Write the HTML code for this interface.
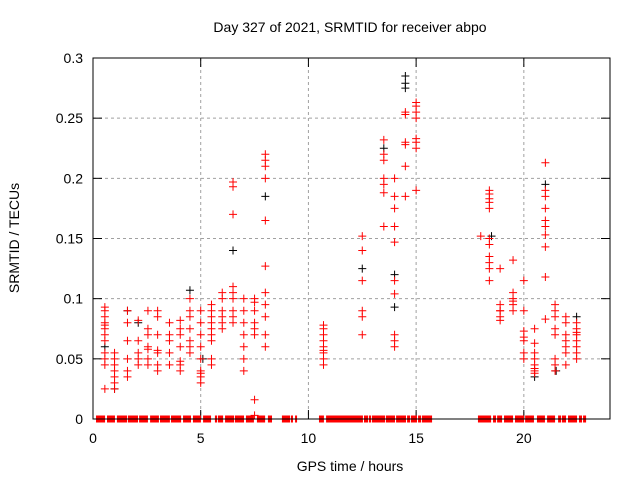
<!DOCTYPE html>
<html><head><meta charset="utf-8"><style>
body{margin:0;background:#fff}
svg text{font-family:"Liberation Sans",sans-serif;font-size:14px;fill:#000}
</style></head><body>
<svg id="chart" width="640" height="480" viewBox="0 0 640 480">
<rect width="640" height="480" fill="#fff"/>
<text x="350" y="32" text-anchor="middle">Day 327 of 2021, SRMTID for receiver abpo</text>
<text transform="translate(19,238) rotate(-90)" text-anchor="middle">SRMTID / TECUs</text>
<text x="350" y="471" text-anchor="middle">GPS time / hours</text>
<g id="grid"></g>
<g id="axes"></g>
<g id="black"></g>
<g id="red"></g>
<rect x="93" y="58" width="517" height="361" fill="none" stroke="#000" stroke-width="1"/>
</svg>
<script>
const xTicks=[0,5,10,15,20];
const yTicks=[0,0.05,0.1,0.15,0.2,0.25,0.3];
const yTickLabels=["0","0.05","0.1","0.15","0.2","0.25","0.3"];
const redHours=[0.55,1.0,1.6,2.1,2.55,3.0,3.55,4.05,4.5,5.0,5.5,6.0,6.5,7.0,7.5,8.0,10.7,12.5,13.5,14.0,14.5,15.0,18.0,18.4,18.9,19.5,20.0,20.5,21.0,21.45,21.95,22.45];
const redValues=[
[0.093,0.09,0.085,0.08,0.078,0.075,0.07,0.065,0.055,0.05,0.045,0.025],
[0.055,0.05,0.045,0.04,0.035,0.03,0.025],
[0.09,0.08,0.065,0.05,0.04,0.035],
[0.082,0.065,0.055,0.05,0.045],
[0.09,0.075,0.07,0.06,0.058,0.05,0.045],
[0.09,0.085,0.07,0.057,0.055,0.045,0.04],
[0.08,0.07,0.065,0.055,0.045],
[0.082,0.075,0.07,0.06,0.048,0.045,0.04],
[0.1,0.09,0.085,0.075,0.065,0.06,0.055],
[0.09,0.08,0.07,0.06,0.05,0.04,0.038,0.035,0.03],
[0.095,0.09,0.085,0.08,0.075,0.07,0.065,0.05,0.045],
[0.105,0.1,0.09,0.085,0.08,0.075],
[0.197,0.193,0.17,0.11,0.105,0.1,0.09,0.085,0.08],
[0.1,0.09,0.08,0.07,0.06,0.05,0.04],
[0.1,0.097,0.09,0.08,0.075,0.07,0.016,0.003],
[0.22,0.215,0.21,0.2,0.165,0.127,0.105,0.095,0.085,0.07,0.06],
[0.078,0.075,0.07,0.065,0.06,0.057,0.055,0.05,0.045],
[0.152,0.14,0.115,0.09,0.085,0.07],
[0.232,0.22,0.215,0.2,0.195,0.188,0.16],
[0.2,0.185,0.175,0.16,0.147,0.115,0.104,0.07,0.065,0.06],
[0.255,0.253,0.23,0.228,0.21,0.185],
[0.263,0.26,0.255,0.25,0.233,0.23,0.225,0.19],
[0.152],
[0.19,0.187,0.183,0.18,0.175,0.15,0.145,0.135,0.13,0.125,0.115],
[0.125,0.095,0.09,0.09,0.085,0.082],
[0.132,0.105,0.1,0.098,0.095,0.09],
[0.115,0.09,0.073,0.068,0.065,0.055,0.05],
[0.075,0.063,0.055,0.05,0.045,0.042,0.04,0.038],
[0.213,0.19,0.185,0.175,0.165,0.16,0.153,0.143,0.118,0.083],
[0.095,0.09,0.085,0.075,0.07,0.05,0.045,0.04],
[0.085,0.08,0.07,0.065,0.06,0.055,0.045],
[0.08,0.075,0.072,0.07,0.065,0.06,0.055,0.05]];
const blackHours=[0.55,1.6,2.1,4.5,5.1,6.5,8.0,12.5,13.5,14.0,14.0,14.5,14.5,14.5,18.5,21.0,22.45,20.5,21.5,1.0];
const blackValues=[0.06,0.09,0.08,0.107,0.05,0.14,0.185,0.125,0.225,0.12,0.093,0.285,0.279,0.275,0.152,0.195,0.085,0.035,0.04,0.025];
const zeroStarts=[0.14,0.65,1.11,1.62,2.14,2.65,3.11,3.62,4.18,4.64,5.11,5.66,5.80,6.13,6.59,7.10,7.61,8.12,8.77,9.19,9.38,10.49,10.82,11.93,12.58,12.81,12.95,13.60,14.07,14.58,14.76,15.09,15.27,17.87,18.57,18.76,19.08,19.59,20.06,20.61,21.08,21.59,21.77,22.05,22.56,22.75];
const zeroEnds=[0.56,1.02,1.58,2.09,2.55,3.06,3.57,4.09,4.55,5.01,5.48,5.76,6.04,6.55,7.01,7.47,7.99,8.31,9.15,9.28,9.47,10.72,11.93,12.53,12.77,12.91,13.56,14.02,14.53,14.72,15.04,15.23,15.74,18.48,18.71,18.99,19.50,20.01,20.47,20.98,21.45,21.73,21.96,22.47,22.70,22.89];
const NS="http://www.w3.org/2000/svg";
function xs(h){return 93+h*517/24;}
function ys(v){return 419-v*361/0.3;}
function mk(tag,attrs,parent){const e=document.createElementNS(NS,tag);for(const k in attrs)e.setAttribute(k,attrs[k]);parent.appendChild(e);return e;}
const grid=document.getElementById('grid'),axes=document.getElementById('axes');
xTicks.forEach(t=>{const x=xs(t);
 if(t>0){const g=mk('line',{x1:x,x2:x,y1:58,y2:419,stroke:'#a0a0a0','stroke-dasharray':'3,3'},grid);
 
 }
 mk('line',{x1:x,x2:x,y1:419,y2:410,stroke:'#000'},axes);
 mk('line',{x1:x,x2:x,y1:58,y2:67,stroke:'#000'},axes);
 const l=mk('text',{x:x,y:443,'text-anchor':'middle'},axes);l.textContent=t;
 
 });
yTicks.forEach((t,i)=>{const y=ys(t);
 if(t>0&&t<0.3){const g=mk('line',{x1:93,x2:610,y1:y,y2:y,stroke:'#a0a0a0','stroke-dasharray':'3,3'},grid);
 
 }
 mk('line',{x1:93,x2:102,y1:y,y2:y,stroke:'#000'},axes);
 mk('line',{x1:601,x2:610,y1:y,y2:y,stroke:'#000'},axes);
 const l=mk('text',{x:83,y:y+5,'text-anchor':'end'},axes);l.textContent=yTickLabels[i];
 
 });
function plus(h,v,color,parent,name){const x=xs(h),y=ys(v);
 const p=mk('path',{d:`M${x-4},${y}H${x+4}M${x},${y-4}V${y+4}`,stroke:color,'stroke-width':1,fill:'none'},parent);
 
 }
const blk=document.getElementById('black'),red=document.getElementById('red');
blackHours.forEach((h,i)=>plus(h,blackValues[i],'#000',blk,'black-point'));
redHours.forEach((h,i)=>redValues[i].forEach(v=>plus(h,v,'#f00',red,'red-point')));
zeroStarts.forEach((s,i)=>{const x1=xs(s),x2=xs(zeroEnds[i]);
 const r=mk('rect',{x:x1,y:ys(0)-3.5,width:Math.max(2,x2-x1),height:7,fill:'#f00'},red);
 
 });
</script>
</body></html>
